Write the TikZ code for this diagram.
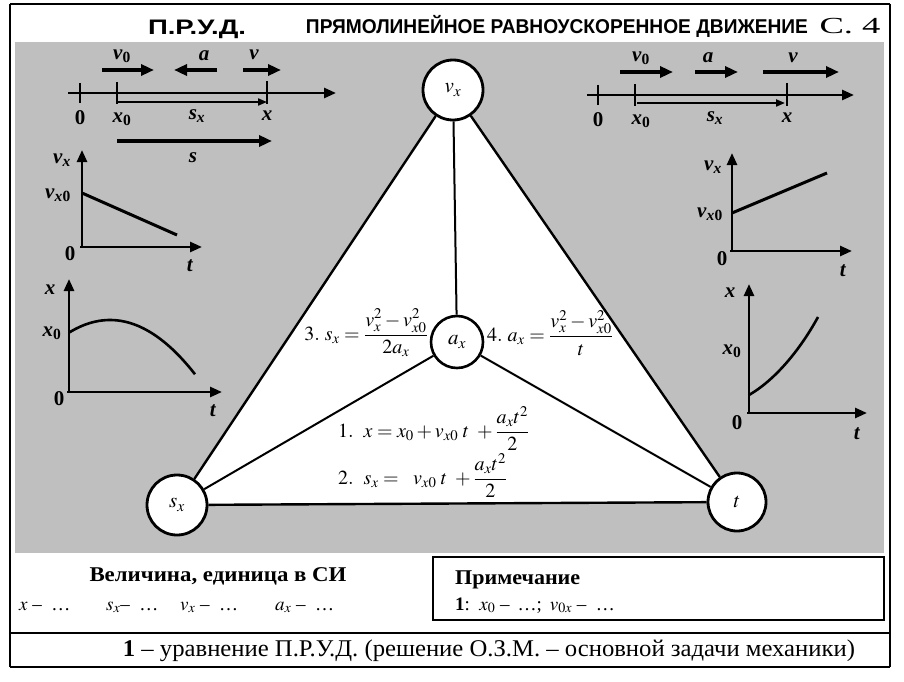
\documentclass[tikz,border=0pt]{standalone}
\usepackage{amsmath}
\usepackage{mathptmx}
\usepackage{fontspec}
\setmainfont{Liberation Serif}
\newfontfamily\titlefont{Liberation Sans}
\usetikzlibrary{arrows.meta}
\definecolor{bggray}{rgb}{0.75,0.75,0.75}
\newcommand\bi[1]{\textbf{\textit{#1}}}
\newcommand\fs[1]{\fontsize{#1}{#1}\selectfont}
\begin{document}
\begin{tikzpicture}[x=1pt,y=-1pt,
  frame/.style={line width=2.4pt,black},
  vcirc/.style={circle,draw,line width=2.8pt,fill=white,minimum size=60pt,inner sep=0pt,font=\fs{21}},
  acirc/.style={circle,draw,line width=2.6pt,fill=white,minimum size=52pt,inner sep=0pt,font=\fs{21}},
  edge/.style={line width=2.4pt},
  spoke/.style={line width=2pt},
  lbl/.style={font=\fs{21},inner sep=0pt},
  barr/.style={line width=3.6pt,-{Triangle[length=13pt,width=11pt]}},
  axarr/.style={line width=2.6pt,-{Triangle[length=12pt,width=10pt]}},
  thinarr/.style={line width=2pt,-{Triangle[length=9pt,width=7pt]}},
  tick/.style={line width=2.4pt},
  graphline/.style={line width=3pt},
  eq/.style={font=\fs{20},inner sep=0pt},
  eqb/.style={font=\fs{20},inner sep=0pt},
  row/.style={inner sep=0pt,anchor=base west,font=\fs{19}}]
\useasboundingbox (0,0) rectangle (904,682);
\fill[white] (0,0) rectangle (904,682);
% gray background
\fill[bggray] (15,42) rectangle (884,553);
% frame
\draw[frame] (10,4) -- (890,4);
\draw[frame] (10,4) -- (10,667);
\draw[frame] (890,4) -- (890,667);
\draw[frame] (10,633) -- (890,633);
\draw[frame] (10,667) -- (890,667);
\draw[line width=1.6pt] (433,557) rectangle (884,620);
% title
\node[inner sep=0pt,anchor=base] (t1) at (197,35) {\resizebox{98pt}{\height}{\titlefont\bfseries\fs{21}П.Р.У.Д.}};
\node[inner sep=0pt,anchor=base] (t2) at (557,34) {\resizebox{502pt}{\height}{\titlefont\bfseries\fs{20}ПРЯМОЛИНЕЙНОЕ РАВНОУСКОРЕННОЕ ДВИЖЕНИЕ}};
\node[inner sep=0pt,anchor=base] (t3) at (850,34) {\resizebox{61pt}{\height}{\fs{23}С. 4}};
% triangle
\coordinate (Vc) at (453,90);
\coordinate (Sc) at (177,505);
\coordinate (Tc) at (737,502);
\coordinate (Ac) at (457,342);
\fill[white] (Vc) -- (Sc) -- (Tc) -- cycle;
\node[vcirc] (V) at (Vc) {$v_x$};
\node[vcirc] (S) at (Sc) {$s_x$};
\node[vcirc,minimum size=58pt] (T) at (Tc) {$t$};
\node[acirc] (A) at (Ac) {$a_x$};
\draw[edge] (V) -- (S);
\draw[edge] (S) -- (T);
\draw[edge] (T) -- (V);
\draw[spoke] (A) -- (V);
\draw[spoke] (A) -- (S);
\draw[spoke] (A) -- (T);
% formulas
\node[eq,anchor=east] (f3) at (428,333) {$3.\ s_x=\dfrac{v_x^2-v_{x0}^2}{2a_x}$};
\node[eq,anchor=west] (f4) at (487,333) {$4.\ a_x=\dfrac{v_x^2-v_{x0}^2}{t}$};
\node[eqb,anchor=base west] (f1) at (338,437) {$1.\ \ x=x_0+v_{x0}\;t\ +\dfrac{a_x t^2}{2}$};
\node[eqb,anchor=base west] (f2) at (338,484) {$2.\ \ s_x=\ \ v_{x0}\;t\ +\dfrac{a_x t^2}{2}$};
% ---------- top-left scheme ----------
\draw[barr] (102,70) -- (154,70);
\draw[barr] (217,70) -- (174,70);
\draw[barr] (243,70) -- (281,70);
\node[lbl] (lv0) at (122,56) {\bi{v}\textsubscript{\textbf{0}}};
\node[lbl] (la) at (204,56) {\bi{a}};
\node[lbl] (lv) at (254,55) {\bi{v}};
\draw[axarr] (68,93) -- (336,93);
\draw[tick] (80,83) -- (80,103);
\draw[tick] (117,82) -- (117,104);
\draw[tick] (267,81) -- (267,104);
\draw[thinarr] (117,102) -- (267,102);
\node[lbl] (l0) at (80,118) {\textbf{0}};
\node[lbl] (lx0) at (122,119) {\bi{x}\textsubscript{\textbf{0}}};
\node[lbl] (lx) at (267,116) {\bi{x}};
\node[lbl] (lsx) at (197,116) {\bi{s}\textsubscript{\bi{x}}};
\draw[barr] (117,141) -- (272,141);
\node[lbl] (ls) at (193,158) {\bi{s}};
% v-t graph left
\draw[axarr] (82,248) -- (82,150);
\draw[axarr] (80,247) -- (202,247);
\draw[graphline] (82,193) -- (177,235);
\node[lbl] (gv1) at (62,160) {\bi{v}\textsubscript{\bi{x}}};
\node[lbl] (gv10) at (58,195) {\bi{v}\textsubscript{\bi{x}\textbf{0}}};
\node[lbl] (g01) at (70,254) {\textbf{0}};
\node[lbl] (gt1) at (190,266) {\bi{t}};
% x-t graph left
\draw[axarr] (69,393) -- (69,279);
\draw[axarr] (67,392) -- (222,392);
\draw[graphline,line width=2.6pt] plot[domain=69:195,samples=40] (\x,{320+0.0075*(\x-110)^2});
\node[lbl] (gx2) at (50,290) {\bi{x}};
\node[lbl] (gx20) at (52,333) {\bi{x}\textsubscript{\textbf{0}}};
\node[lbl] (g02) at (59,399) {\textbf{0}};
\node[lbl] (gt2) at (213,411) {\bi{t}};
% ---------- top-right scheme ----------
\draw[barr] (620,72) -- (673,72);
\draw[barr] (695,72) -- (738,72);
\draw[barr] (763,72) -- (839,72);
\node[lbl] (rv0) at (641,58) {\bi{v}\textsubscript{\textbf{0}}};
\node[lbl] (ra) at (708,58) {\bi{a}};
\node[lbl] (rv) at (793,58) {\bi{v}};
\draw[axarr] (587,95) -- (854,95);
\draw[tick] (598,85) -- (598,105);
\draw[tick] (635,84) -- (635,106);
\draw[tick] (787,83) -- (787,106);
\draw[thinarr] (637,103) -- (785,103);
\node[lbl] (r0) at (598,120) {\textbf{0}};
\node[lbl] (rx0) at (641,121) {\bi{x}\textsubscript{\textbf{0}}};
\node[lbl] (rx) at (787,118) {\bi{x}};
\node[lbl] (rsx) at (715,118) {\bi{s}\textsubscript{\bi{x}}};
% v-t graph right
\draw[axarr] (732,252) -- (732,153);
\draw[axarr] (730,251) -- (852,251);
\draw[graphline] (732,213) -- (827,173);
\node[lbl] (hv1) at (713,167) {\bi{v}\textsubscript{\bi{x}}};
\node[lbl] (hv10) at (710,214) {\bi{v}\textsubscript{\bi{x}\textbf{0}}};
\node[lbl] (h01) at (722,259) {\textbf{0}};
\node[lbl] (ht1) at (843,271) {\bi{t}};
% x-t graph right
\draw[axarr] (749,414) -- (749,284);
\draw[axarr] (747,413) -- (867,413);
\draw[graphline,line width=2.6pt] (749,395) .. controls (775,380) and (800,350) .. (818,317);
\node[lbl] (hx2) at (730,293) {\bi{x}};
\node[lbl] (hx20) at (732,351) {\bi{x}\textsubscript{\textbf{0}}};
\node[lbl] (h02) at (737,423) {\textbf{0}};
\node[lbl] (ht2) at (857,434) {\bi{t}};
% ---------- bottom ----------
\node[inner sep=0pt,anchor=base] (q1) at (218,581) {\resizebox{257pt}{\height}{\bfseries\fs{21}Величина, единица в СИ}};
\node[row] (q2) at (19,610) {$x$ – \ …};
\node[row] (q3) at (106,610) {$s_x$– \ …};
\node[row] (q4) at (180,610) {$v_x$ – \ …};
\node[row] (q5) at (275,610) {$a_x$ – \ …};
\node[inner sep=0pt,anchor=base west] (p1) at (455,584) {\resizebox{125pt}{\height}{\bfseries\fs{21}Примечание}};
\node[row] (p2) at (455,610) {\textbf{1}: \,$x_0$ – \,…; \,$v_{0x}$ – \ …};
\node[inner sep=0pt,anchor=base] (b1) at (489,656) {\resizebox{732pt}{\height}{\fs{24}\textbf{1} – уравнение П.Р.У.Д. (решение О.З.М. – основной задачи механики)}};
\end{tikzpicture}
\end{document}
